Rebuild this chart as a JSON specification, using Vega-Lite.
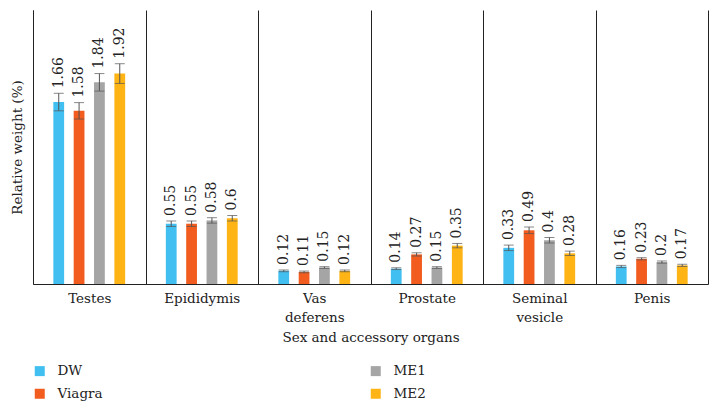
{
  "$schema": "https://vega.github.io/schema/vega-lite/v6.json",
  "width": 675,
  "height": 274,
  "autosize": "none",
  "padding": {"left": 33, "top": 10, "right": 11, "bottom": 129},
  "data": {
    "values": [
      {"organ": "Testes", "group": "DW", "value": 1.66, "err": 0.08},
      {"organ": "Testes", "group": "Viagra", "value": 1.58, "err": 0.075},
      {"organ": "Testes", "group": "ME1", "value": 1.84, "err": 0.08},
      {"organ": "Testes", "group": "ME2", "value": 1.92, "err": 0.09},
      {"organ": "Epididymis", "group": "DW", "value": 0.55, "err": 0.025},
      {"organ": "Epididymis", "group": "Viagra", "value": 0.55, "err": 0.025},
      {"organ": "Epididymis", "group": "ME1", "value": 0.58, "err": 0.025},
      {"organ": "Epididymis", "group": "ME2", "value": 0.6, "err": 0.025},
      {"organ": "Vas deferens", "group": "DW", "value": 0.12, "err": 0.008},
      {"organ": "Vas deferens", "group": "Viagra", "value": 0.11, "err": 0.008},
      {"organ": "Vas deferens", "group": "ME1", "value": 0.15, "err": 0.008},
      {"organ": "Vas deferens", "group": "ME2", "value": 0.12, "err": 0.008},
      {"organ": "Prostate", "group": "DW", "value": 0.14, "err": 0.008},
      {"organ": "Prostate", "group": "Viagra", "value": 0.27, "err": 0.015},
      {"organ": "Prostate", "group": "ME1", "value": 0.15, "err": 0.008},
      {"organ": "Prostate", "group": "ME2", "value": 0.35, "err": 0.02},
      {"organ": "Seminal vesicle", "group": "DW", "value": 0.33, "err": 0.025},
      {"organ": "Seminal vesicle", "group": "Viagra", "value": 0.49, "err": 0.03},
      {"organ": "Seminal vesicle", "group": "ME1", "value": 0.4, "err": 0.025},
      {"organ": "Seminal vesicle", "group": "ME2", "value": 0.28, "err": 0.02},
      {"organ": "Penis", "group": "DW", "value": 0.16, "err": 0.01},
      {"organ": "Penis", "group": "Viagra", "value": 0.23, "err": 0.01},
      {"organ": "Penis", "group": "ME1", "value": 0.2, "err": 0.01},
      {"organ": "Penis", "group": "ME2", "value": 0.17, "err": 0.01}
    ]
  },
  "encoding": {
    "x": {
      "field": "organ",
      "type": "nominal",
      "sort": ["Testes", "Epididymis", "Vas deferens", "Prostate", "Seminal vesicle", "Penis"],
      "scale": {"paddingInner": 0, "paddingOuter": 0},
      "axis": {
        "title": "Sex and accessory organs",
        "labelAngle": 0,
        "tickBand": "extent",
        "grid": true,
        "gridColor": "#222222",
        "gridOpacity": 1,
        "ticks": false,
        "domainColor": "#222222",
        "labelPadding": 7,
        "labelLineHeight": 19,
        "labelExpr": "datum.label == 'Vas deferens' ? ['Vas', 'deferens'] : datum.label == 'Seminal vesicle' ? ['Seminal', 'vesicle'] : datum.label",
        "titlePadding": 7
      }
    },
    "xOffset": {
      "field": "group",
      "type": "nominal",
      "scale": {"domain": ["DW", "Viagra", "ME1", "ME2"], "paddingInner": 0.47, "paddingOuter": 1.2}
    }
  },
  "layer": [
    {
      "mark": {"type": "bar"},
      "encoding": {
        "y": {
          "field": "value",
          "type": "quantitative",
          "title": "Relative weight (%)",
          "scale": {"domain": [0, 2.5], "nice": false, "zero": true},
          "axis": {
            "labels": false,
            "ticks": false,
            "grid": false,
            "domainColor": "#222222",
            "titlePadding": 9
          }
        },
        "color": {
          "field": "group",
          "type": "nominal",
          "scale": {
            "domain": ["DW", "Viagra", "ME1", "ME2"],
            "range": ["#41BFF0", "#F25C1E", "#A5A5A5", "#FDB414"]
          },
          "legend": {
            "title": null,
            "orient": "none",
            "legendX": 0,
            "legendY": 354,
            "columns": 2,
            "columnPadding": 266,
            "rowPadding": 8,
            "symbolType": "square",
            "symbolSize": 100,
            "symbolStrokeWidth": 0,
            "labelOffset": 11,
            "labelFontSize": 13.5
          }
        }
      }
    },
    {
      "mark": {"type": "errorbar", "color": "#555555", "ticks": {"size": 10, "color": "#555555"}},
      "encoding": {
        "y": {"field": "value", "type": "quantitative", "title": "Relative weight (%)", "scale": {"domain": [0, 2.5], "nice": false}},
        "yError": {"field": "err"}
      }
    },
    {
      "transform": [{"calculate": "datum.value + datum.err", "as": "top"}],
      "mark": {"type": "text", "angle": 270, "align": "left", "baseline": "middle", "dx": 5, "fontSize": 14, "color": "#222222"},
      "encoding": {
        "y": {"field": "top", "type": "quantitative", "title": "Relative weight (%)", "scale": {"domain": [0, 2.5], "nice": false}},
        "text": {"field": "value", "type": "quantitative"}
      }
    }
  ],
  "config": {
    "font": "DejaVu Serif",
    "view": {"stroke": null},
    "axis": {
      "labelFont": "DejaVu Serif",
      "titleFont": "DejaVu Serif",
      "labelFontSize": 13.5,
      "titleFontSize": 13.5,
      "titleFontWeight": "normal",
      "labelColor": "#222222",
      "titleColor": "#222222"
    },
    "legend": {"labelFont": "DejaVu Serif", "labelColor": "#222222"},
    "text": {"font": "DejaVu Serif"}
  }
}
